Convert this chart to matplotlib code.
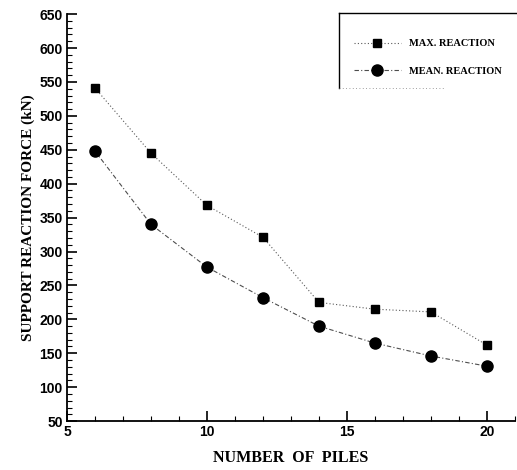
import matplotlib
matplotlib.use("Agg")
import matplotlib.pyplot as plt
from matplotlib.lines import Line2D
from matplotlib.ticker import MultipleLocator

# ---- data ----
num_piles = [6, 8, 10, 12, 14, 16, 18, 20]
max_reaction = [541, 445, 368, 321, 225, 215, 211, 162]
mean_reaction = [448, 340, 277, 232, 190, 165, 146, 131]

x_ticks = [5, 10, 15, 20]
y_ticks = [50, 100, 150, 200, 250, 300, 350, 400, 450, 500, 550, 600, 650]

SERIF = ["Liberation Serif", "DejaVu Serif"]
SANS = ["Liberation Sans", "DejaVu Sans"]

W, H = 517, 470  # figure size in px


def main():
    fig = plt.figure(figsize=(W / 100, H / 100), dpi=100)
    ax = fig.add_axes([0.1296, 0.104, 0.8664, 0.866])

    ax.plot(num_piles, max_reaction, linestyle=(0, (1, 2)), color="0.35",
            linewidth=0.8, marker="s", markersize=5.5, markerfacecolor="black",
            markeredgecolor="black", label="MAX. REACTION")
    ax.plot(num_piles, mean_reaction, linestyle=(0, (4, 2, 1, 2)), color="0.3",
            linewidth=0.8, marker="o", markersize=8, markerfacecolor="black",
            markeredgecolor="black", label="MEAN. REACTION")

    ax.set_xlim(5, 21)
    ax.set_ylim(50, 650)
    ax.set_xticks(x_ticks)
    ax.set_yticks(y_ticks)
    ax.xaxis.set_minor_locator(MultipleLocator(1))
    ax.yaxis.set_minor_locator(MultipleLocator(10))
    ax.tick_params(which="major", direction="in", length=7, width=1.2,
                   labelsize=10, pad=3)
    ax.tick_params(which="minor", direction="in", length=3.5, width=0.8)
    for lbl in ax.get_xticklabels() + ax.get_yticklabels():
        lbl.set_family(SANS)
        lbl.set_fontweight("bold")

    for side in ("top", "right"):
        ax.spines[side].set_visible(False)
    for side in ("left", "bottom"):
        ax.spines[side].set_linewidth(1.3)

    ax.set_xlabel("NUMBER  OF  PILES", family=SERIF, fontweight="bold",
                  fontsize=11.5, labelpad=8)
    ax.set_ylabel("SUPPORT REACTION FORCE (kN)", family=SERIF, fontweight="bold",
                  fontsize=11, labelpad=3)

    # legend without its own frame; box edges drawn by hand (open on the right)
    leg = fig.legend(loc="upper left", bbox_to_anchor=(354 / W, 1 - 39 / H),
                     bbox_transform=fig.transFigure,
                     prop={"family": SERIF, "weight": "bold", "size": 7.5},
                     frameon=False, borderpad=0.0, borderaxespad=0.0,
                     handlelength=4.5, handletextpad=0.8, labelspacing=1.75)
    x0, x1 = 339 / W, 1.0
    y_top, y_bot = 1 - 13 / H, 1 - 88 / H
    fig.add_artist(Line2D([x0, x1], [y_top, y_top], color="black",
                          linewidth=1.0, transform=fig.transFigure))
    fig.add_artist(Line2D([x0, x0], [y_top, y_bot], color="black",
                          linewidth=1.0, transform=fig.transFigure))
    fig.add_artist(Line2D([x0, 0.86], [y_bot, y_bot], color="0.5",
                          linewidth=0.6, linestyle=(0, (1, 3)),
                          transform=fig.transFigure))

    fig.savefig("out.png", dpi=100)
    plt.close(fig)


if __name__ == "__main__":
    main()
